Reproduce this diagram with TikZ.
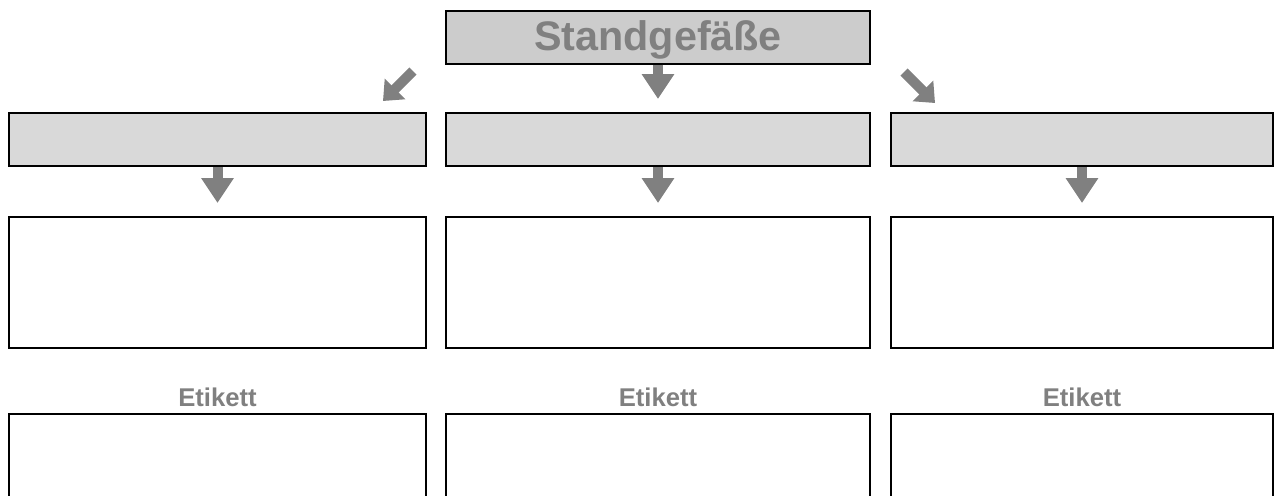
\documentclass[tikz,border=0pt]{standalone}
\usepackage{fontspec}
\setmainfont{Liberation Sans}
\usetikzlibrary{arrows.meta, positioning}

\definecolor{textgray}{HTML}{808080}
\definecolor{headfill}{HTML}{CCCCCC}
\definecolor{groupfill}{HTML}{D9D9D9}

\begin{document}
\begin{tikzpicture}[x=0.02cm, y=-0.02cm]

\newlength{\rowh}
\setlength{\rowh}{2.62cm}

\useasboundingbox (0,0) rectangle (1277,495);

% styles
\pgfkeys{/box/.style={draw=black, line width=0.04cm, inner sep=0, minimum height=1.06cm}} % base style for boxes
\pgfkeys{/headbox/.style={/box, fill=headfill, minimum width=8.48cm, text height=0.72cm, text depth=0.2cm, text=textgray, font=\fontsize{23.5}{23.5}\selectfont\bfseries}} % title
\pgfkeys{/groupbox/.style={/box, fill=groupfill}} % grey row
\pgfkeys{/emptybox/.style={/box, fill=white, minimum height=\rowh}} % white boxes
\pgfkeys{/tag/.style={text=textgray, inner sep=0, font=\fontsize{14.6}{14.6}\selectfont\bfseries}} % Etikett
\pgfkeys{/flow/.style={draw=textgray, line width=0.2cm, -{Triangle[length=0.5cm, width=0.62cm]}}} % block arrows
\pgfkeys{/slant/.style={draw=textgray, line width=0.2cm, -{Triangle[length=0.34cm, width=0.56cm]}}} % small diagonal arrows

% title
\node[/headbox] (top) at (658,37) {Standgefäße};

% free ends of the diagonal arrows
\coordinate (sl1) at (413,71);
\coordinate (sl2) at (383,101);
\coordinate (sr1) at (904,72);
\coordinate (sr2) at (935,103);

% three columns
\foreach \j/\x/\w in {1/217.5/8.34cm, 2/658/8.48cm, 3/1082/7.64cm} {
\node[/groupbox, minimum width=\w] (g\j) at (\x,139.5) {}; % grey box
\node[/emptybox, minimum width=\w] (d\j) at (\x,282.5) {}; % box below
\node[/tag] (t\j) at (\x,397) {Etikett}; % label
\node[/emptybox, minimum width=\w, anchor=north] (e\j) at (\x,413) {}; % label box
\draw[/flow, shorten >=0.26cm] (g\j.south) -- (d\j.north); % down arrow
}

\draw[/flow, shorten >=0.26cm] (top.south) -- (g2.north);
\draw[/slant] (sl1) -- (sl2);
\draw[/slant] (sr1) -- (sr2);

\end{tikzpicture}
\end{document}
